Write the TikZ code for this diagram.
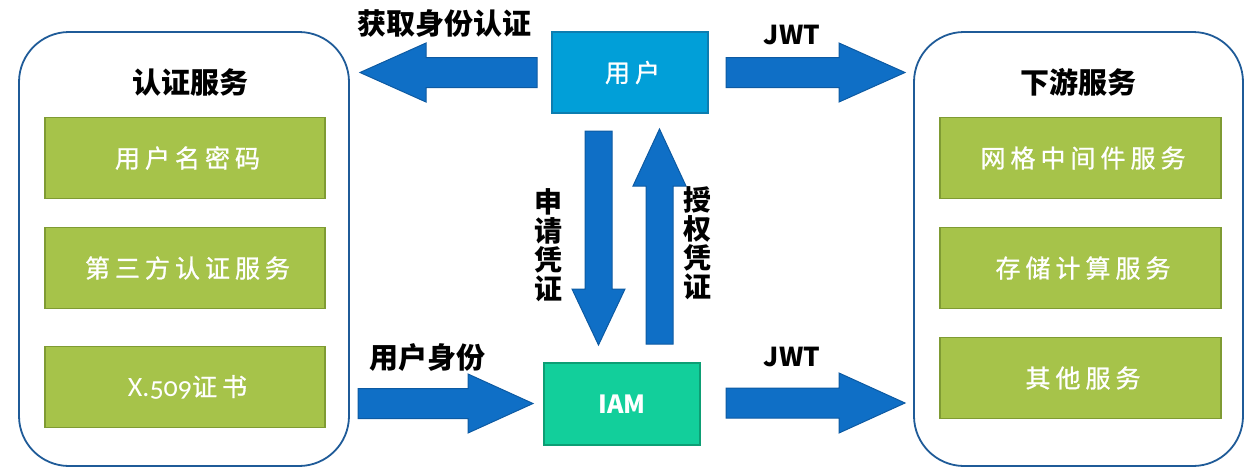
\documentclass[tikz,border=0pt]{standalone}
\usepackage{fontspec}
\setmainfont{Noto Sans CJK SC}
\newfontfamily\cjk{Noto Sans CJK SC}
\newfontfamily\greenfont[LetterSpace=20,FakeBold=1]{Noto Sans CJK SC}
\newfontfamily\latinfont[Numbers=OldStyle]{Carlito}
\definecolor{arrowblue}{HTML}{0F6FC6}
\definecolor{arrowedge}{HTML}{0D5AA2}
\definecolor{contedge}{HTML}{1F5B98}
\definecolor{userfill}{HTML}{019FD8}
\definecolor{useredge}{HTML}{0C7DB0}
\definecolor{iamfill}{HTML}{12CF9B}
\definecolor{iamedge}{HTML}{0D9E74}
\definecolor{greenfill}{HTML}{A6C34A}
\definecolor{greenedge}{HTML}{7F9B33}
\tikzset{
  container/.style={draw=contedge, line width=1.8pt, fill=white, rounded corners=50pt, inner sep=0pt},
  greenbox/.style={draw=greenedge, line width=1.2pt, fill=greenfill, minimum width=280pt, minimum height=81pt, inner sep=0pt, text=white, font=\greenfont\fontsize{25}{27}\selectfont},
  userbox/.style={draw=useredge, line width=1.2pt, fill=userfill, minimum width=156pt, minimum height=81pt, inner sep=0pt, text=white, font=\greenfont\fontsize{25}{27}\selectfont},
  iambox/.style={draw=iamedge, line width=1.2pt, fill=iamfill, minimum width=156pt, minimum height=82pt, inner sep=0pt, text=white, font=\cjk\bfseries\fontsize{25}{27}\selectfont},
  blockarrow/.style={draw=arrowedge, line width=1pt, fill=arrowblue, line join=miter},
  lbl/.style={inner sep=0pt, font=\cjk\bfseries\fontsize{29}{30}\selectfont},
  jwt/.style={inner sep=0pt, font=\cjk\bfseries\fontsize{26}{28}\selectfont},
  vlbl/.style={inner sep=0pt, align=center, font=\cjk\bfseries\fontsize{28}{29}\selectfont},
}
\begin{document}
\begin{tikzpicture}[x=1pt,y=-1pt]
\useasboundingbox (0,0) rectangle (1245,469);
% containers
\node[container, minimum width=330pt, minimum height=434pt] (auth) at (184,249) {};
\node[container, minimum width=329pt, minimum height=434pt] (down) at (1078.5,249) {};
\node[lbl] (authtitle) at (190,82) {认证服务};
\node[lbl] (downtitle) at (1078,82) {下游服务};
% green boxes
\node[greenbox] (g1) at (185,158) {用户名密码\kern-5pt};
\node[greenbox] (g2) at (185,268) {第三方认证服务\kern-5pt};
\node[greenbox] (g3) at (185,387) {{\latinfont\fontsize{28}{30}\selectfont X.509}证书\kern-5pt};
\node[greenbox, minimum width=281pt] (r1) at (1080.5,158) {网格中间件服务\kern-5pt};
\node[greenbox, minimum width=281pt] (r2) at (1080.5,268) {存储计算服务\kern-5pt};
\node[greenbox, minimum width=281pt] (r3) at (1080.5,378) {其他服务\kern-5pt};
% user and IAM
\node[userbox] (user) at (630,72.5) {用户\kern-5pt};
\node[iambox] (iam) at (622,404) {IAM};
% block arrows
\draw[blockarrow] (537,57.5) -- (426,57.5) -- (426,43) -- (360,72.5) -- (426,102) -- (426,87.5) -- (537,87.5) -- cycle;
\draw[blockarrow] (726,57.5) -- (839,57.5) -- (839,43) -- (905,72.5) -- (839,102) -- (839,87.5) -- (726,87.5) -- cycle;
\draw[blockarrow] (358,388.5) -- (468,388.5) -- (468,374) -- (533,403.5) -- (468,433) -- (468,418.5) -- (358,418.5) -- cycle;
\draw[blockarrow] (726,388) -- (839,388) -- (839,373) -- (905,403) -- (839,433) -- (839,418) -- (726,418) -- cycle;
\draw[blockarrow] (585,131) -- (612,131) -- (612,289) -- (625,289) -- (598.5,345) -- (572,289) -- (585,289) -- cycle;
\draw[blockarrow] (646,344) -- (673,344) -- (673,186) -- (686,186) -- (659.5,129) -- (633,186) -- (646,186) -- cycle;
% labels
\node[lbl] (l1) at (444,24) {获取身份认证};
\node[jwt] (l2) at (792,35) {JWT};
\node[lbl] (l3) at (427,358) {用户身份};
\node[jwt] (l4) at (792,357) {JWT};
\node[vlbl] (l5) at (548,245) {申\\请\\凭\\证};
\node[vlbl] (l6) at (697,243) {授\\权\\凭\\证};
\end{tikzpicture}
\end{document}
